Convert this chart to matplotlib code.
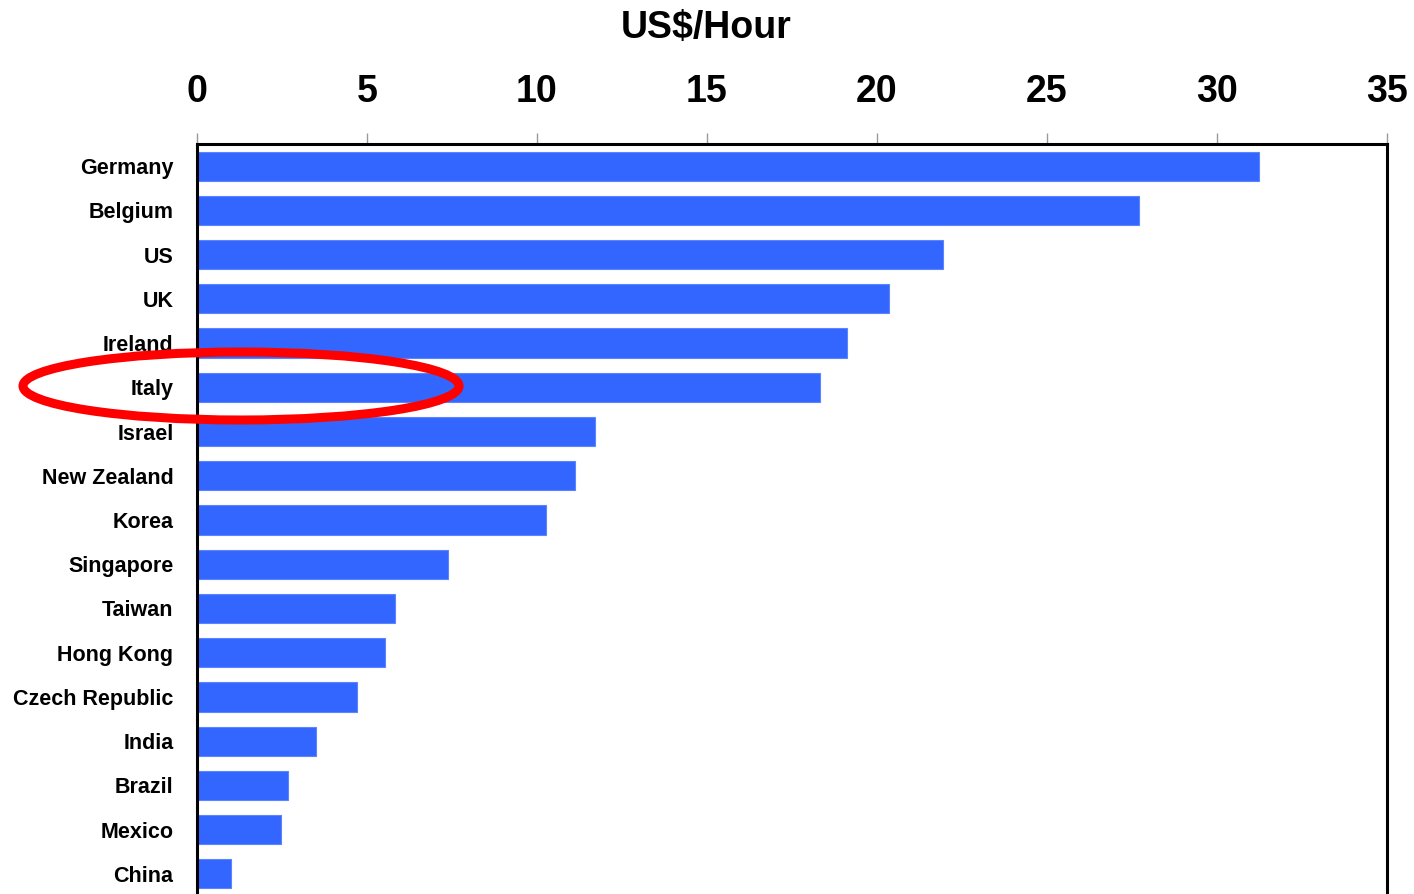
import matplotlib.pyplot as plt
from matplotlib.patches import Ellipse

countries = ["Germany", "Belgium", "US", "UK", "Ireland", "Italy", "Israel",
             "New Zealand", "Korea", "Singapore", "Taiwan", "Hong Kong",
             "Czech Republic", "India", "Brazil", "Mexico", "China"]
wages = [31.24, 27.7, 21.95, 20.35, 19.12, 18.32, 11.7, 11.12, 10.27,
         7.38, 5.82, 5.53, 4.71, 3.5, 2.68, 2.47, 1.0]
xticks = [0, 5, 10, 15, 20, 25, 30, 35]

plt.rcParams['font.family'] = ['Liberation Sans', 'DejaVu Sans']
plt.rcParams['font.weight'] = 'bold'

W, H = 1414, 894
fig = plt.figure(figsize=(W / 100, H / 100), dpi=100)
# axes placed in pixel terms: left 197, right 1387, top 144, bottom ~896 (just off the figure)
ax = fig.add_axes([197 / W, (H - 896) / H, 1190 / W, (896 - 144) / H])

ypos = list(range(len(countries)))
ax.barh(ypos, wages, height=0.66, color="#3366FF", edgecolor="#5b84ff", linewidth=0.8)

ax.set_xlim(0, 35)
ax.set_ylim(len(countries) - 0.5, -0.5)
ax.set_xticks(xticks)
ax.set_xticklabels([str(t) for t in xticks], fontsize=27, fontweight='bold')
ax.xaxis.tick_top()
ax.tick_params(axis='x', top=True, bottom=False, length=8, width=1,
               color='#999999', pad=16.5)
ax.set_yticks(ypos)
ax.set_yticklabels(countries, fontsize=15.5, fontweight='bold')
ax.tick_params(axis='y', length=0, pad=17)

for side in ['top', 'left', 'right']:
    ax.spines[side].set_linewidth(2.2)
    ax.spines[side].set_color('black')
ax.spines['bottom'].set_visible(False)

fig.text(706 / W, 1 - 28 / H, "US$/Hour", ha='center', va='center',
         fontsize=27, fontweight='bold')

# red highlight ring round Italy
ring = Ellipse((241 / W, 1 - 386 / H), 436 / W, 68 / H, transform=fig.transFigure,
               fill=False, edgecolor='#FF0000', linewidth=6.5, zorder=10)
fig.patches.append(ring)

fig.savefig("out.png", dpi=100)
